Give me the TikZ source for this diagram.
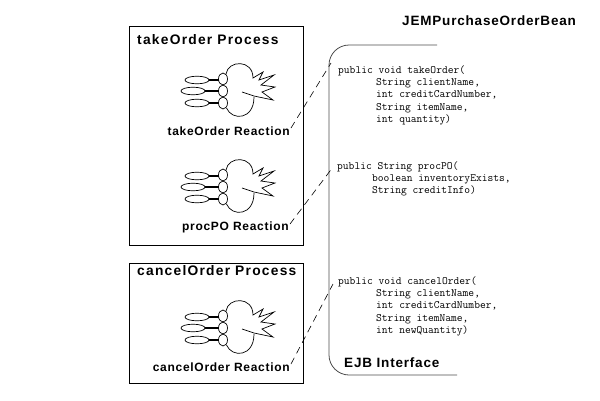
\documentclass[tikz,border=0pt]{standalone}
\usepackage{fontspec}
\setmainfont{Liberation Sans}
\newfontfamily\lblfont[LetterSpace=6]{Liberation Sans}
\newfontfamily\ttlfont[LetterSpace=9]{Liberation Sans}
\begin{document}
\begin{tikzpicture}[x=1pt,y=-1pt,
  box/.style={draw, line width=0.8pt},
  iface/.style={draw, line width=0.8pt, gray!60!black},
  ttl/.style={font=\ttlfont\bfseries\fontsize{13.8}{16}\selectfont, anchor=west, inner sep=0pt},
  ttlb/.style={font=\lblfont\bfseries\fontsize{13.5}{16}\selectfont, anchor=west, inner sep=0pt},
  rlbl/.style={font=\lblfont\bfseries\fontsize{12}{14}\selectfont, anchor=east, inner sep=0pt},
  codeline/.style={font=\ttfamily\fontsize{11.2}{13}\selectfont, anchor=west, inner sep=0pt},
  conn/.style={dash pattern=on 7pt off 5pt, line width=0.6pt},
  bar/.style={line width=1.4pt},
  reaction/.pic={
    \begin{scope}[line width=0.7pt]
    \draw (15,17) ellipse [x radius=12pt, y radius=3.8pt];
    \draw (11,28) ellipse [x radius=12pt, y radius=3.8pt];
    \draw (15,40) ellipse [x radius=12pt, y radius=3.8pt];
    \draw[bar] (27,17) -- (36.5,17);
    \draw[bar] (23,28) -- (36.5,28);
    \draw[bar] (27,40) -- (36.5,40);
    \draw (41,16) ellipse [x radius=4.5pt, y radius=6pt];
    \draw (41,28) ellipse [x radius=4.5pt, y radius=6pt];
    \draw (41,40) ellipse [x radius=4.5pt, y radius=6pt];
    \draw (44,11) .. controls (46,-3) and (71,-4) .. (71,15)
      -- (81,9) -- (77,17) -- (92,12) -- (79,22) -- (93,24) -- (80,29)
      -- (91,37) -- (72,33) -- (60,29);
    \draw (44.5,45) .. controls (50,58) and (72,57) .. (72,34);
    \end{scope}
  }]
\useasboundingbox (0,0) rectangle (600,400);

% process boxes
\draw[box] (129,26) rectangle (303,245);
\draw[box] (129,263) rectangle (303,383);

\node[ttl] (t1) at (137,40) {takeOrder Process};
\node[ttl] (t2) at (137,271) {cancelOrder Process};

% reaction icons
\pic (ic1) at (182,63) {reaction};
\pic (ic2) at (182,159) {reaction};
\pic (ic3) at (182,300) {reaction};

\node[rlbl] (r1) at (290,131) {takeOrder Reaction};
\node[rlbl] (r2) at (289,227) {procPO Reaction};
\node[rlbl] (r3) at (290,367) {cancelOrder Reaction};

% interface
\node[ttlb] (bean) at (402,21) {JEMPurchaseOrderBean};
\draw[iface] (437,45) -- (349,45) .. controls (338,45) and (329,54) .. (329,65)
  -- (329,355) .. controls (329,366) and (338,375) .. (349,375) -- (457,375);
\node[ttlb] (ejb) at (344,363) {EJB Interface};

% code
\node[codeline] (c1a) at (338,71) {public void takeOrder(};
\node[codeline] (c1b) at (376,83) {String clientName,};
\node[codeline] (c1c) at (376,95) {int creditCardNumber,};
\node[codeline] (c1d) at (376,108) {String itemName,};
\node[codeline] (c1e) at (376,120) {int quantity)};

\node[codeline] (c2a) at (337,167) {public String procPO(};
\node[codeline] (c2b) at (372,179) {boolean inventoryExists,};
\node[codeline] (c2c) at (372,191) {String creditInfo)};

\node[codeline] (c3a) at (338,282) {public void cancelOrder(};
\node[codeline] (c3b) at (376,294) {String clientName,};
\node[codeline] (c3c) at (376,306) {int creditCardNumber,};
\node[codeline] (c3d) at (376,319) {String itemName,};
\node[codeline] (c3e) at (376,331) {int newQuantity)};

% connectors
\coordinate (p1) at (331,63);
\coordinate (p2) at (333,167);
\coordinate (p3) at (333,284);
\draw[conn] ([shift={(1,-3)}]r1.east) -- (p1);
\draw[conn] ([shift={(1,-3)}]r2.east) -- (p2);
\draw[conn] ([shift={(1,-3)}]r3.east) -- (p3);
\end{tikzpicture}
\end{document}
